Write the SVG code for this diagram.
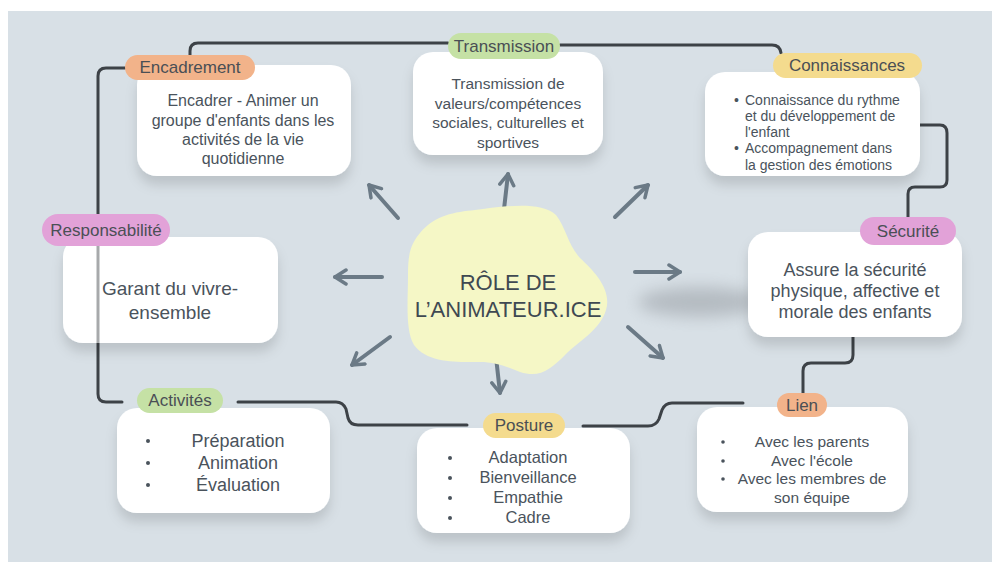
<svg xmlns="http://www.w3.org/2000/svg" width="992" height="562" viewBox="0 0 992 562">
<defs>
<style>
.t{font-family:"Liberation Sans",Arial,sans-serif;fill:#4a535c;text-anchor:middle}
.tl{font-family:"Liberation Sans",Arial,sans-serif;fill:#4a535c}
.pl{font-family:"Liberation Sans",Arial,sans-serif;fill:#4a4f55;text-anchor:middle;font-size:17px}
.box{fill:#ffffff;filter:url(#sh)}
.con{fill:none;stroke:#3d4247;stroke-width:3;stroke-linecap:round;stroke-linejoin:round}
.arr{fill:none;stroke:#6b7a86;stroke-width:4;stroke-linecap:round;marker-end:url(#ah)}
.dot{fill:#4a535c}
</style>
<filter id="sh" x="-20%" y="-20%" width="140%" height="160%">
<feDropShadow dx="0" dy="9" stdDeviation="6" flood-color="#000" flood-opacity="0.13"/>
</filter>
<filter id="blur" x="-50%" y="-100%" width="200%" height="300%">
<feGaussianBlur stdDeviation="8"/>
</filter>
<marker id="ah" viewBox="-13 -9 15 18" refX="0" refY="0" markerWidth="15" markerHeight="18" markerUnits="userSpaceOnUse" orient="auto">
<path d="M-11,-7 L0,0 L-11,7" fill="none" stroke="#6b7a86" stroke-width="3.5" stroke-linecap="round" stroke-linejoin="round"/>
</marker>
</defs>
<rect x="0" y="0" width="992" height="562" fill="#ffffff"/>
<rect x="8" y="11" width="984" height="551" fill="#d8e0e6"/>
<ellipse cx="700" cy="302" rx="62" ry="15" fill="#8a9096" opacity="0.45" filter="url(#blur)"/>

<g id="connectors">
<path class="con" d="M190,55 V51 Q190,43 198,43 H448"/>
<path class="con" d="M560,45 H772 Q780,45 781,53"/>
<path class="con" d="M920,125 H940 Q947,125 947,133 V180 Q947,187 940,187 H915 Q908,187 908,194 V217"/>
<path class="con" d="M853,337 V355 Q853,363 845,363 H811 Q803,363 803,371 V393"/>
<path class="con" d="M743,403 H672 Q665,403 662,410 L659,419 Q656,426 648,426 H583"/>
<path class="con" d="M467,425 H358 Q350,425 348,418 L346,409 Q343,402 336,402 H238"/>
<path class="con" d="M122,402 H106 Q98,402 98,394 V76 Q98,68 106,68 H125"/>
<path class="arr" d="M398,218 L369,185"/>
<path class="arr" d="M503,218 L508,174"/>
<path class="arr" d="M615,217 L648,185"/>
<path class="arr" d="M635,272 L680,272"/>
<path class="arr" d="M628,327 L663,358"/>
<path class="arr" d="M495,348 L500,393"/>
<path class="arr" d="M390,337 L352,365"/>
<path class="arr" d="M382,277 L335,277"/>
</g>

<g id="center">
<path d="M420,233 C435,215 455,212 475,210 C500,207 540,200 556,215 C566,228 568,245 580,258 C595,272 612,290 606,310 C600,330 580,340 565,355 C550,370 540,378 520,372 C505,366 495,362 480,362 C460,362 428,364 414,345 C405,330 408,300 408,275 C408,255 410,245 420,233 Z" fill="#f5f7c6"/>
<text class="t" x="508" y="290" font-size="22" style="fill:#3f4952">RÔLE DE</text>
<text class="t" x="508" y="317" font-size="22" style="fill:#3f4952">L’ANIMATEUR.ICE</text>
</g>

<g id="encadrement">
<rect class="box" x="137" y="65" width="214" height="111" rx="20"/>
<rect x="125" y="55" width="130" height="25" rx="12.5" fill="#f2b38a"/>
<text class="pl" x="190" y="73">Encadrement</text>
<text class="t" font-size="16" x="243" y="106">Encadrer - Animer un</text>
<text class="t" font-size="16" x="243" y="126">groupe d'enfants dans les</text>
<text class="t" font-size="16" x="243" y="145">activités de la vie</text>
<text class="t" font-size="16" x="243" y="164">quotidienne</text>
</g>

<g id="transmission">
<rect class="box" x="413" y="52" width="190" height="103" rx="20"/>
<rect x="448" y="33" width="112" height="26" rx="13" fill="#c5e1a5"/>
<text class="pl" x="504" y="52">Transmission</text>
<text class="t" font-size="15.5" x="508" y="89">Transmission de</text>
<text class="t" font-size="15.5" x="508" y="109">valeurs/compétences</text>
<text class="t" font-size="15.5" x="508" y="128">sociales, culturelles et</text>
<text class="t" font-size="15.5" x="508" y="148">sportives</text>
</g>

<g id="connaissances">
<rect class="box" x="705" y="72" width="215" height="104" rx="20"/>
<rect x="773" y="53" width="149" height="25" rx="12.5" fill="#f4db8e"/>
<text class="pl" x="847" y="71">Connaissances</text>
<text class="tl" font-size="14" x="734" y="105">•</text>
<text class="tl" font-size="14" x="745" y="105">Connaissance du rythme</text>
<text class="tl" font-size="14" x="745" y="121">et du développement de</text>
<text class="tl" font-size="14" x="745" y="137">l'enfant</text>
<text class="tl" font-size="14" x="734" y="153">•</text>
<text class="tl" font-size="14" x="745" y="153">Accompagnement dans</text>
<text class="tl" font-size="14" x="745" y="170">la gestion des émotions</text>
</g>

<g id="securite">
<rect class="box" x="748" y="232" width="214" height="105" rx="20"/>
<rect x="860" y="217" width="96" height="28" rx="14" fill="#e2a2d8"/>
<text class="pl" x="908" y="237">Sécurité</text>
<text class="t" font-size="18" x="855" y="276">Assure la sécurité</text>
<text class="t" font-size="18" x="855" y="297">physique, affective et</text>
<text class="t" font-size="18" x="855" y="318">morale des enfants</text>
</g>

<g id="responsabilite">
<rect class="box" x="63" y="237" width="215" height="106" rx="20"/>
<line x1="98" y1="246" x2="98" y2="343" stroke="#3d4247" stroke-width="3" opacity="0.45"/>
<rect x="42" y="214" width="128" height="32" rx="16" fill="#e2a2d8"/>
<text class="pl" x="106" y="236">Responsabilité</text>
<text class="t" font-size="19" x="170" y="295">Garant du vivre-</text>
<text class="t" font-size="19" x="170" y="319">ensemble</text>
</g>

<g id="activites">
<rect class="box" x="117" y="408" width="213" height="105" rx="20"/>
<rect x="137" y="388" width="86" height="25" rx="12.5" fill="#c5e1a5"/>
<text class="pl" x="180" y="406">Activités</text>
<circle class="dot" cx="148" cy="441" r="2"/>
<circle class="dot" cx="148" cy="463" r="2"/>
<circle class="dot" cx="148" cy="485" r="2"/>
<text class="t" font-size="18" x="238" y="447">Préparation</text>
<text class="t" font-size="18" x="238" y="469">Animation</text>
<text class="t" font-size="18" x="238" y="491">Évaluation</text>
</g>

<g id="posture">
<rect class="box" x="417" y="428" width="213" height="105" rx="20"/>
<rect x="483" y="413" width="82" height="25" rx="12.5" fill="#f4db8e"/>
<text class="pl" x="524" y="431">Posture</text>
<circle class="dot" cx="450" cy="458" r="2"/>
<circle class="dot" cx="450" cy="478" r="2"/>
<circle class="dot" cx="450" cy="498" r="2"/>
<circle class="dot" cx="450" cy="518" r="2"/>
<text class="t" font-size="16.5" x="528" y="463">Adaptation</text>
<text class="t" font-size="16.5" x="528" y="483">Bienveillance</text>
<text class="t" font-size="16.5" x="528" y="503">Empathie</text>
<text class="t" font-size="16.5" x="528" y="523">Cadre</text>
</g>

<g id="lien">
<rect class="box" x="697" y="407" width="211" height="105" rx="20"/>
<rect x="777" y="393" width="50" height="24" rx="12" fill="#f2b38a"/>
<text class="pl" x="802" y="411">Lien</text>
<circle class="dot" cx="723" cy="442" r="1.8"/>
<circle class="dot" cx="723" cy="461" r="1.8"/>
<circle class="dot" cx="723" cy="479" r="1.8"/>
<text class="t" font-size="15.5" x="812" y="447">Avec les parents</text>
<text class="t" font-size="15.5" x="812" y="466">Avec l'école</text>
<text class="t" font-size="15.5" x="812" y="484">Avec les membres de</text>
<text class="t" font-size="15.5" x="812" y="503">son équipe</text>
</g>
</svg>
